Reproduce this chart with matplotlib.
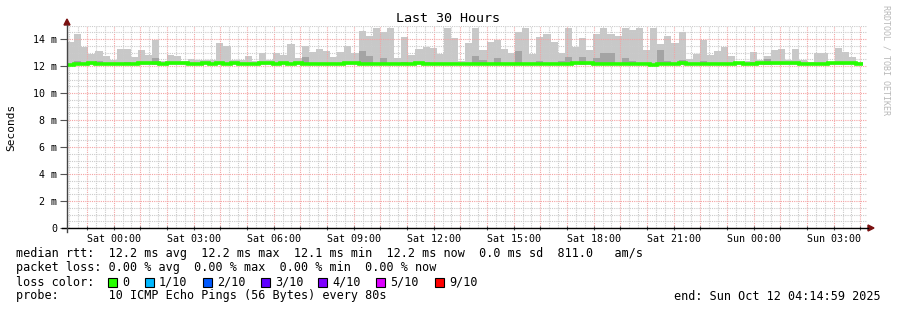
import datetime as dt

import matplotlib
matplotlib.use('Agg')
import matplotlib.dates as mdates
import matplotlib.patches as mpatches
from matplotlib import pyplot as plt
from matplotlib.ticker import FuncFormatter, MultipleLocator

# --- data (values in ms, one per 16 minute step) ---
start = dt.datetime(2025, 10, 10, 22, 14, 59)
end = dt.datetime(2025, 10, 12, 4, 14, 59)
step_minutes = 16

smoke_top = [
    13.75, 14.4, 13.4, 12.9, 13.1, 12.75, 12.45, 13.25, 13.25, 12.65,
    13.2, 12.8, 13.9, 12.4, 12.8, 12.75, 12.35, 12.5, 12.45, 12.45,
    12.45, 13.7, 13.5, 12.45, 12.45, 12.75, 12.35, 12.95, 12.45, 12.95,
    12.8, 13.6, 12.6, 13.5, 13.05, 13.25, 13.1, 12.65, 13.05, 13.5,
    12.95, 14.6, 14.2, 14.8, 14.5, 14.8, 12.6, 14.15, 12.8, 13.25,
    13.4, 13.35, 12.9, 14.8, 14.1,
    12.4, 13.7, 14.8, 13.2, 13.8, 13.9, 13.25, 12.95, 14.5, 14.8,
    12.9, 14.15, 14.35, 13.75, 12.95, 14.8, 13.4, 14.1, 13.2, 14.4,
    14.8, 14.35, 14.2, 14.8, 14.65, 14.8, 13.2, 14.8, 13.6, 14.2,
    13.7, 14.5, 12.5, 12.9, 13.9, 12.8, 13.1, 13.4, 12.75, 12.3,
    12.4, 13.05, 12.45, 12.75, 13.2, 13.25, 12.45, 13.25, 12.45, 12.3,
    12.95, 12.95, 12.3, 13.35, 13.05, 12.65, 12.3,
]
# inner (darker) smoke band, 0 where none is visible
smoke_inner = [
    0, 12.4, 0, 0, 12.35, 0, 0, 0, 12.3, 0,
    0, 0, 12.6, 0, 0, 0, 0, 0, 0, 0,
    0, 0, 0, 0, 0, 0, 0, 0, 0, 0,
    0, 0, 0, 12.65, 0, 0, 0, 0, 0, 0,
    0, 13.1, 12.75, 0, 12.6, 0, 0, 12.3, 0, 0,
    12.3, 0, 0, 0, 0,
    0, 0, 12.75, 12.45, 0, 12.6, 0, 0, 13.1, 0,
    0, 12.4, 0, 0, 12.4, 12.65, 0, 12.65, 0, 12.6,
    12.95, 13.0, 0, 12.6, 12.4, 0, 0, 0, 13.2, 12.4,
    0, 12.45, 0, 0, 12.4, 0, 0, 0, 0, 0,
    0, 12.3, 0, 12.5, 0, 0, 0, 0, 0, 0,
    0, 0, 0, 0, 0, 0, 0,
]
median = [
    12.1, 12.15, 12.15, 12.22, 12.15, 12.15, 12.15, 12.15, 12.15, 12.15,
    12.22, 12.22, 12.22, 12.15, 12.22, 12.22, 12.22, 12.15, 12.15, 12.22,
    12.15, 12.22, 12.15, 12.22, 12.15, 12.15, 12.15, 12.22, 12.22, 12.15,
    12.22, 12.15, 12.22, 12.15, 12.15, 12.15, 12.15, 12.15, 12.15, 12.22,
    12.22, 12.15, 12.15, 12.15, 12.15, 12.15, 12.15, 12.15, 12.15, 12.22,
    12.15, 12.15, 12.15, 12.15, 12.15,
    12.15, 12.15, 12.15, 12.15, 12.15, 12.15, 12.15, 12.15, 12.15, 12.15,
    12.15, 12.15, 12.15, 12.15, 12.15, 12.15, 12.22, 12.22, 12.22, 12.15,
    12.15, 12.15, 12.15, 12.15, 12.15, 12.15, 12.15, 12.05, 12.15, 12.15,
    12.15, 12.22, 12.15, 12.15, 12.15, 12.15, 12.15, 12.15, 12.15, 12.25,
    12.15, 12.15, 12.25, 12.25, 12.22, 12.22, 12.22, 12.22, 12.15, 12.15,
    12.15, 12.15, 12.22, 12.22, 12.22, 12.22, 12.15,
]
smoke_base = 12.1

loss_labels = ['0', '1/10', '2/10', '3/10', '4/10', '5/10', '9/10']
loss_colors = ['#26ff00', '#00b8ff', '#0059ff', '#5e00ff', '#7e00ff', '#dd00ff', '#ff0000']

stats_line = 'median rtt:  12.2 ms avg  12.2 ms max  12.1 ms min  12.2 ms now  0.0 ms sd  811.0   am/s'
loss_line = 'packet loss: 0.00 % avg  0.00 % max  0.00 % min  0.00 % now'
probe_line = 'probe:       10 ICMP Echo Pings (56 Bytes) every 80s'
end_line = 'end: Sun Oct 12 04:14:59 2025'

W, H = 897, 310
MONO = 'DejaVu Sans Mono'


def px(x, y):
    return x / W, 1 - y / H


fig = plt.figure(figsize=(W / 100, H / 100), dpi=100)
fig.patch.set_facecolor('white')
left, right, top, bottom = 67, 867, 25.5, 228
ax = fig.add_axes([left / W, 1 - bottom / H, (right - left) / W, (bottom - top) / H])

width = dt.timedelta(minutes=step_minutes)
times = [start + i * width for i in range(len(smoke_top))]
wdays = step_minutes / 1440.0

ax.bar(times, [t - smoke_base for t in smoke_top], bottom=smoke_base, width=wdays,
       align='edge', color='#c8c8c8', linewidth=0, zorder=2)
inner_t = [t for t, v in zip(times, smoke_inner) if v > 0]
inner_v = [v - smoke_base for v in smoke_inner if v > 0]
ax.bar(inner_t, inner_v, bottom=smoke_base, width=wdays, align='edge',
       color='#a4a4a4', linewidth=0, zorder=3)
edges = mdates.date2num(times + [times[-1] + width])
ax.stairs(median, edges, baseline=None, color='#26ff00', linewidth=2.6, zorder=4)

ax.set_xlim(start, end)
ax.set_ylim(0, 15)

# grid on top of the data, like rrdtool
ax.xaxis.set_major_locator(mdates.HourLocator(interval=1))
ax.xaxis.set_minor_locator(mdates.MinuteLocator(byminute=[20, 40]))
ax.yaxis.set_major_locator(MultipleLocator(2))
ax.yaxis.set_minor_locator(MultipleLocator(0.5))
ax.grid(which='minor', color='#cbcbcb', linestyle=(0, (1, 1)), linewidth=0.8, zorder=5)
ax.grid(which='major', color='#f5a3a3', linestyle=(0, (1, 1)), linewidth=0.8, zorder=6)
ax.set_axisbelow(False)


def xfmt(x, pos):
    d = mdates.num2date(x)
    return d.strftime('%a %H:%M') if d.hour % 3 == 0 else ''


ax.xaxis.set_major_formatter(FuncFormatter(xfmt))
ax.yaxis.set_major_formatter(FuncFormatter(lambda v, p: '0' if v == 0 else '%d m' % v))

for s in ax.spines.values():
    s.set_visible(False)
ax.tick_params(axis='x', which='major', length=3, width=0.8, color='#555555', direction='inout',
               labelsize=7.2, pad=3)
ax.tick_params(axis='x', which='minor', length=0)
ax.tick_params(axis='y', which='major', length=5, width=0.8, color='#555555', direction='out',
               labelsize=7.2, pad=2)
ax.tick_params(axis='y', which='minor', length=0)
for lab in ax.get_xticklabels() + ax.get_yticklabels():
    lab.set_family(MONO)

# axis lines with arrow heads
fig.add_artist(plt.Line2D([px(62, 0)[0], px(868, 0)[0]], [px(0, 228)[1]] * 2,
                          color='black', linewidth=1.0))
fig.add_artist(plt.Line2D([px(67, 0)[0]] * 2, [px(0, 232)[1], px(0, 25)[1]],
                          color='#444444', linewidth=1.0))
fig.add_artist(mpatches.Polygon([px(64, 25), px(70, 25), px(67, 19)], closed=True,
                                color='#7a1010', transform=fig.transFigure))
fig.add_artist(mpatches.Polygon([px(868, 225), px(868, 231), px(874, 228)], closed=True,
                                color='#7a1010', transform=fig.transFigure))

fig.text(*px(448, 19), 'Last 30 Hours', family=MONO, fontsize=9.6, ha='center', va='center')
fig.text(*px(11, 127), 'Seconds', family=MONO, fontsize=8, rotation=90, ha='center', va='center')
fig.text(*px(886, 5), 'RRDTOOL / TOBI OETIKER', family=MONO, fontsize=6, color='#b8b8b8',
         rotation=270, ha='center', va='top')

# legend block
fs = 8.45
fig.text(*px(16, 254), stats_line, family=MONO, fontsize=fs, va='center')
fig.text(*px(16, 268), loss_line, family=MONO, fontsize=fs, va='center')
fig.text(*px(16, 282), 'loss color:', family=MONO, fontsize=fs, va='center')
sq_x = [108, 145, 203, 261, 318, 376, 435]
for x, lab, col in zip(sq_x, loss_labels, loss_colors):
    fig.add_artist(mpatches.Rectangle(px(x, 287), 9 / W, 9 / H, facecolor=col,
                                      edgecolor='black', linewidth=0.8,
                                      transform=fig.transFigure))
    fig.text(*px(x + 14, 282), lab, family=MONO, fontsize=fs, va='center')
fig.text(*px(16, 296), probe_line, family=MONO, fontsize=fs, va='center')
fig.text(*px(881, 296), end_line, family=MONO, fontsize=fs, va='center', ha='right')

fig.savefig('out.png', dpi=100, facecolor='white')
